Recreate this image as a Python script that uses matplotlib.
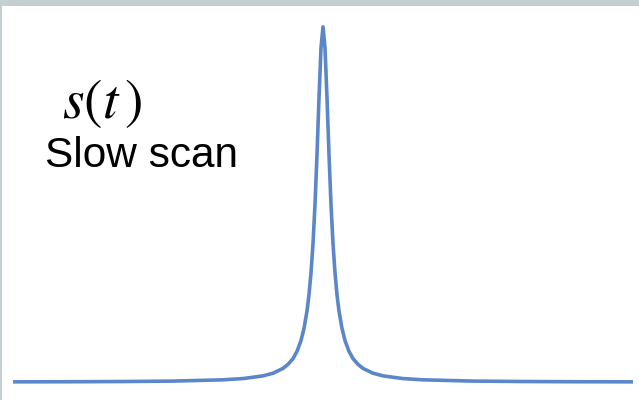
import matplotlib
matplotlib.use("Agg")
import matplotlib.pyplot as plt
from matplotlib.patches import Rectangle
import numpy as np

# Scan position (relative to resonance) and normalized signal
t_half = [0, 2, 4, 6, 8, 10, 12, 14, 16, 19, 22, 26, 30, 35, 40, 50, 60, 80, 100, 150, 200, 250, 310]
s_half = [1.0, 0.941, 0.80, 0.64, 0.50, 0.39, 0.308, 0.246, 0.20, 0.151, 0.117, 0.0865, 0.066,
          0.050, 0.0385, 0.025, 0.0175, 0.0099, 0.0064, 0.0028, 0.0016, 0.001, 0.0007]
t_vals = [-v for v in t_half[::-1]] + t_half[1:]
s_vals = s_half[::-1] + s_half[1:]

label_math = r"$s(t\,)$"
label_text = "Slow scan"

W, H = 639, 400
plt.rcParams["mathtext.fontset"] = "stix"
fig = plt.figure(figsize=(W / 100, H / 100), dpi=100)
fig.patch.set_facecolor("white")
ax = fig.add_axes([0, 0, 1, 1])
ax.set_facecolor("white")
ax.plot(t_vals, s_vals, color="#5B87C9", lw=2.6, solid_capstyle="butt", solid_joinstyle="round")
ax.set_xlim(-323, 316)
ax.set_ylim(-18 / 357, 1 + 27 / 357)
ax.axis("off")

# frame decorations
fig.patches.append(Rectangle((0, 1 - 6 / H), 1, 6 / H, transform=fig.transFigure,
                             facecolor="#C3CFD0", edgecolor="none", zorder=5))
fig.patches.append(Rectangle((0, 0), 1.5 / W, 1, transform=fig.transFigure,
                             facecolor="#C3CFD0", edgecolor="none", zorder=5))

fig.text(62 / W, 1 - 118 / H, label_math, fontsize=40, ha="left", va="baseline", color="black")
fig.text(45 / W, 1 - 167 / H, label_text, fontsize=30.5, ha="left", va="baseline",
         family="Liberation Sans", color="black")

fig.savefig("out.png", dpi=100)
